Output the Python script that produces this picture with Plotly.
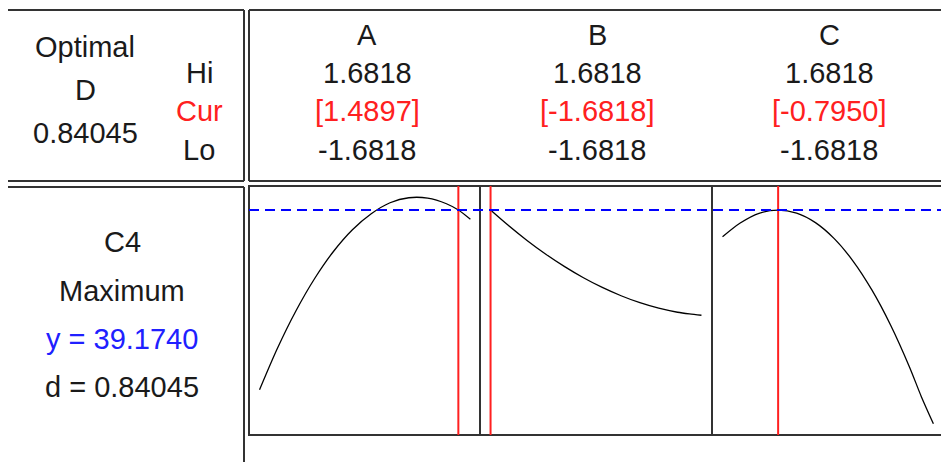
import plotly.graph_objects as go

# ---- data ----
factors = ["A", "B", "C"]
hi_vals = ["1.6818", "1.6818", "1.6818"]
cur_vals = [1.4897, -1.6818, -0.7950]
lo_vals = ["-1.6818", "-1.6818", "-1.6818"]
optimal_D = "0.84045"
response_name = "C4"
goal = "Maximum"
y_pred = 39.1740
d_val = "0.84045"

x_grid = [-1.6818, -1.4, -1.1, -0.8, -0.5, -0.2, 0.1, 0.4, 0.7, 1.0, 1.3, 1.4897, 1.6818]
resp_A = [21.2, 25.3, 29.1, 32.35, 35.05, 37.2, 38.8, 39.9, 40.4, 40.36, 39.8, 39.17, 38.24]
resp_B = [39.17, 37.64, 36.13, 34.75, 33.51, 32.40, 31.43, 30.6, 29.9, 29.35, 28.95, 28.78, 28.65]
resp_C = [36.5, 37.87, 38.84, 39.17, 38.86, 37.91, 36.31, 34.07, 31.18, 27.65, 23.48, 20.51, 17.8]

# page offset: the browser body has an 8px margin
OFF = 8
W, H = 949 - OFF, 462 - OFF
def px(x):
    return (x - OFF) / W
def py(y):
    return 1 - (y - OFF) / H

FONT = "Liberation Sans, Arial, sans-serif"
FS = 29
BLACK = "#1a1a1a"
RED = "#ff2020"
BLUE = "#2020ff"
FRAME = "#333333"

fig = go.Figure()

panels = [(249, 480), (480, 712), (712, 943)]
series = [resp_A, resp_B, resp_C]
axnames = ["x", "x2", "x3"]
for vals, ax in zip(series, axnames):
    fig.add_trace(go.Scatter(x=x_grid, y=vals, xaxis=ax, yaxis="y", mode="lines",
                             line=dict(color="black", width=1.3, shape="spline", smoothing=0.8),
                             showlegend=False, hoverinfo="skip"))

layout_axes = {}
ranges = [[-1.85, 1.835], [-1.85, 1.85], [-1.85, 1.835]]
for i, ((a, b), ax) in enumerate(zip(panels, axnames)):
    key = "xaxis" if i == 0 else f"xaxis{i+1}"
    layout_axes[key] = dict(domain=[px(a), px(b)], range=ranges[i], visible=False,
                            anchor="y", fixedrange=True)
fig.update_layout(**layout_axes)
fig.update_layout(yaxis=dict(domain=[py(435), py(186)], range=[16.674, 41.574],
                             visible=False, fixedrange=True))

shapes = []
def line(x0, y0, x1, y1, color=FRAME, width=2):
    shapes.append(dict(type="line", xref="paper", yref="paper", x0=px(x0), y0=py(y0), x1=px(x1), y1=py(y1),
                       line=dict(color=color, width=width)))

# top-left box
line(8, 10, 244, 10)
line(244, 10, 244, 181)
line(8, 181, 244, 181)
# top-right box
line(249, 10, 949, 10)
line(249, 10, 249, 181)
line(249, 181, 949, 181)
# bottom-left box
line(8, 187, 244, 187)
line(244, 187, 244, 462)
# plot frame
shapes.append(dict(type="rect", xref="paper", yref="paper", x0=px(249), y0=py(435), x1=px(943), y1=py(186),
                   line=dict(color=FRAME, width=2)))
line(480, 186, 480, 435)
line(712, 186, 712, 435)

# current settings (red vertical lines)
for c, ax in zip(cur_vals, axnames):
    shapes.append(dict(type="line", xref=ax, yref="y domain", x0=c, x1=c, y0=0, y1=1,
                       line=dict(color=RED, width=2)))
# predicted response (blue dashed)
shapes.append(dict(type="line", xref="paper", yref="y", x0=px(249), x1=px(943), y0=y_pred, y1=y_pred,
                   line=dict(color="#0000ff", width=2, dash="10px,6px")))
fig.update_layout(shapes=shapes)

ann = []
def txt(x, y, s, color=BLACK, size=FS):
    ann.append(dict(x=px(x), y=py(y), xref="paper", yref="paper", text=s, showarrow=False,
                    xanchor="center", yanchor="middle", font=dict(family=FONT, size=size, color=color)))

txt(85, 47, "Optimal")
txt(85, 90, "D")
txt(85, 133, optimal_D)
txt(199, 73, "Hi")
txt(199, 111, "Cur", RED)
txt(199, 150, "Lo")
centers = [367, 597, 829]
for cx, f, h, c, l in zip(centers, factors, hi_vals, cur_vals, lo_vals):
    txt(cx, 35, f)
    txt(cx, 73, h)
    txt(cx, 111, f"[{c:.4f}]", RED)
    txt(cx, 150, l)

txt(122, 242, response_name)
txt(122, 291, goal)
txt(122, 339, f"y = {y_pred:.4f}", BLUE)
txt(122, 387, f"d = {d_val}")
fig.update_layout(annotations=ann)

fig.update_layout(width=W, height=H, autosize=False, margin=dict(l=0, r=0, t=0, b=0),
                  paper_bgcolor="white", plot_bgcolor="white")
fig.write_html("out.html")
